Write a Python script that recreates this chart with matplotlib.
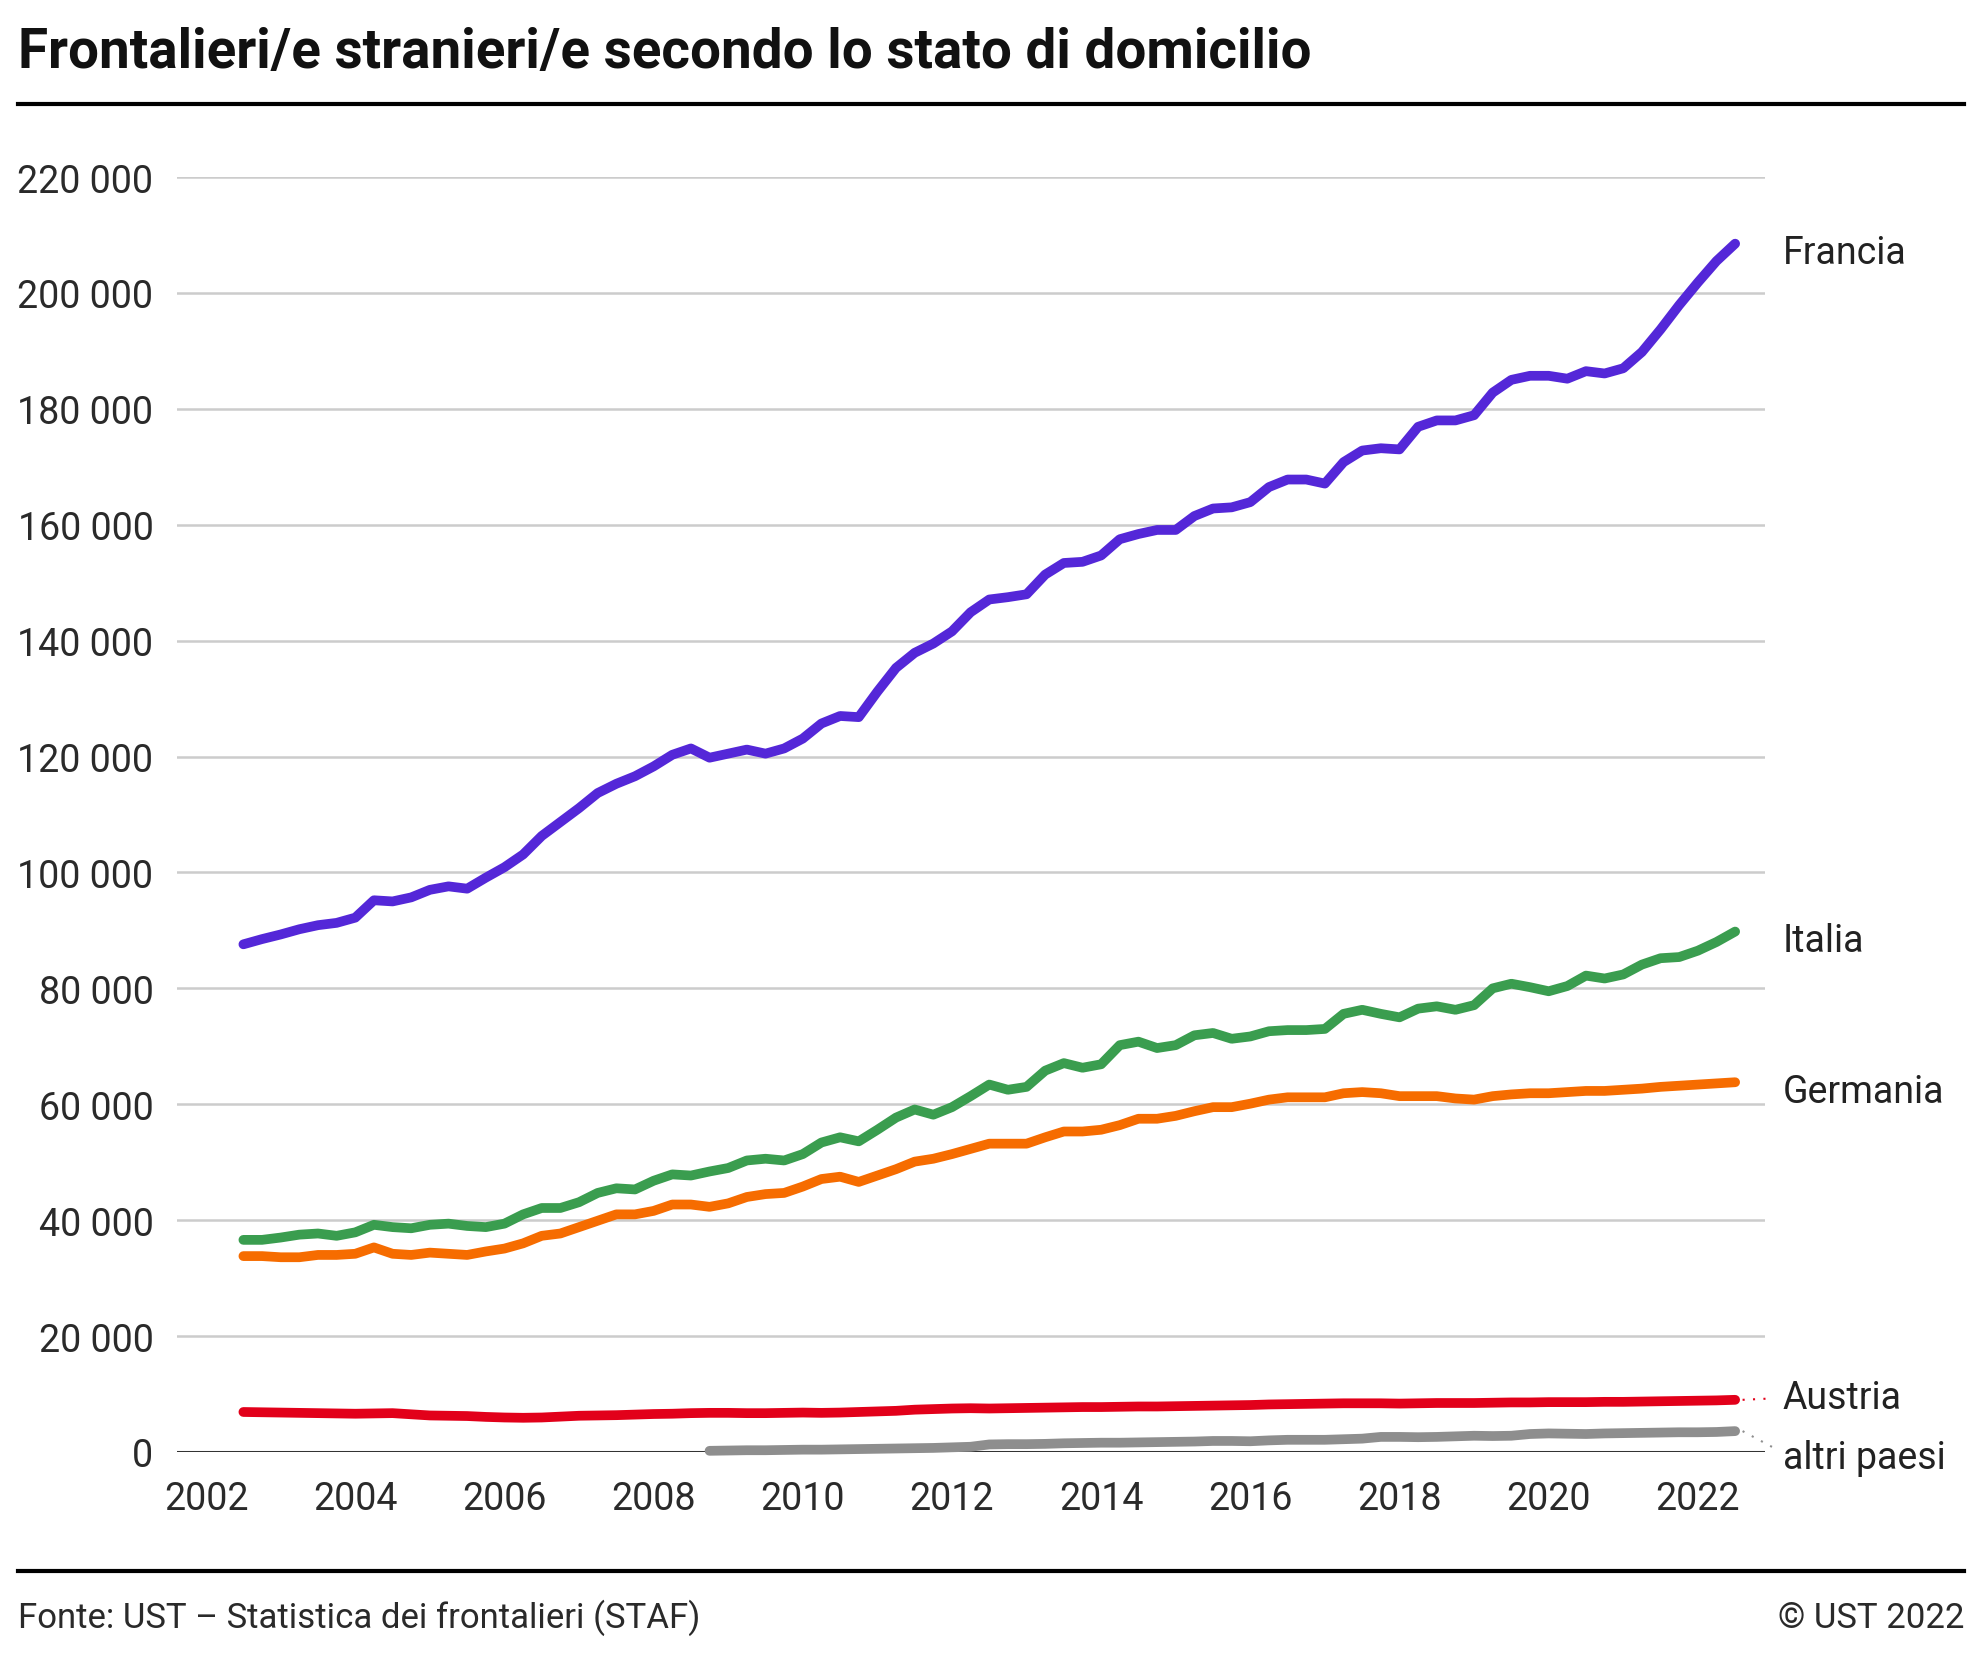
import numpy as np
import matplotlib
matplotlib.use("Agg")
from matplotlib import pyplot as plt

plt.rcParams['font.family'] = ['Roboto', 'DejaVu Sans']

# quarterly data, 2002 Q3 .. 2022 Q3
start_year = 2002.5
francia = [87600, 88500, 89300, 90200, 90900, 91300, 92200, 95200, 95000, 95700,
           97000, 97600, 97200, 99100, 100900, 103100, 106300, 108700, 111100, 113700,
           115300, 116600, 118300, 120300, 121400, 119800, 120500, 121200, 120500, 121400,
           123100, 125700, 127000, 126800, 131200, 135300, 137900, 139500, 141600, 144900,
           147100, 147500, 148000, 151400, 153400, 153600, 154700, 157500, 158400, 159100,
           159100, 161500, 162800, 163000, 163900, 166500, 167800, 167800, 167100, 170800,
           172800, 173200, 173000, 176900, 178000, 178000, 178900, 182800, 185000, 185700,
           185700, 185200, 186500, 186100, 187000, 189800, 193700, 197900, 201800, 205500,
           208500]
italia = [36600, 36600, 37000, 37500, 37700, 37300, 37900, 39200, 38800, 38600,
          39200, 39400, 39000, 38800, 39400, 41000, 42100, 42100, 43100, 44700,
          45500, 45300, 46800, 47900, 47700, 48400, 49000, 50300, 50600, 50300,
          51400, 53400, 54300, 53600, 55600, 57700, 59100, 58200, 59500, 61400,
          63400, 62500, 63000, 65800, 67100, 66300, 66900, 70200, 70800, 69700,
          70200, 71900, 72300, 71300, 71700, 72600, 72800, 72800, 73000, 75600,
          76300, 75600, 75000, 76500, 76900, 76300, 77100, 80000, 80800, 80200,
          79500, 80400, 82200, 81700, 82400, 84100, 85200, 85400, 86500, 88000,
          89800]
germania = [33800, 33800, 33600, 33600, 34000, 34000, 34200, 35300, 34200, 34000,
            34400, 34200, 34000, 34600, 35100, 36000, 37300, 37700, 38800, 39900,
            41000, 41000, 41600, 42700, 42700, 42300, 42900, 44000, 44500, 44700,
            45800, 47100, 47500, 46600, 47700, 48800, 50100, 50600, 51400, 52300,
            53200, 53200, 53200, 54300, 55300, 55300, 55600, 56400, 57500, 57500,
            58000, 58800, 59500, 59500, 60100, 60800, 61200, 61200, 61200, 61900,
            62100, 61900, 61400, 61400, 61400, 61000, 60800, 61400, 61700, 61900,
            61900, 62100, 62300, 62300, 62500, 62700, 63000, 63200, 63400, 63600,
            63800]
austria = [6900, 6850, 6800, 6750, 6700, 6650, 6600, 6650, 6700, 6500,
           6300, 6250, 6200, 6050, 5950, 5900, 5950, 6100, 6250, 6300,
           6350, 6450, 6550, 6600, 6700, 6750, 6750, 6700, 6700, 6750,
           6800, 6750, 6800, 6900, 7000, 7100, 7300, 7400, 7500, 7550,
           7500, 7550, 7600, 7650, 7700, 7750, 7750, 7800, 7850, 7850,
           7900, 7950, 8000, 8050, 8100, 8200, 8250, 8300, 8350, 8400,
           8400, 8400, 8350, 8400, 8450, 8450, 8450, 8500, 8550, 8550,
           8600, 8600, 8600, 8650, 8650, 8700, 8750, 8800, 8850, 8900,
           9000]
# altri paesi from 2008 Q4
altri_start = 2008.75
altri = [200, 250, 300, 300, 350, 400, 400, 450, 500, 550,
         600, 650, 700, 800, 900, 1300, 1350, 1350, 1400, 1500,
         1550, 1600, 1600, 1650, 1700, 1750, 1800, 1900, 1900, 1850,
         2000, 2100, 2100, 2100, 2200, 2300, 2600, 2600, 2550, 2600,
         2700, 2800, 2750, 2800, 3100, 3200, 3150, 3100, 3200, 3250,
         3300, 3350, 3400, 3400, 3450, 3600]

names = ['Francia', 'Italia', 'Germania', 'Austria', 'altri paesi']
colors = ['#5427d8', '#3a9d4f', '#f66c00', '#e2001a', '#8e8e8e']
label_offset = [-1600, -1600, -1600, 400, -4600]

yticks = np.arange(0, 220001, 20000)
xticks = np.arange(2002, 2023, 2)

fig = plt.figure(figsize=(19.8, 16.56), dpi=100)
ax = fig.add_axes([0.0894, 0.1226, 0.802, 0.7699])

series = [francia, italia, germania, austria, altri]
starts = [start_year] * 4 + [altri_start]
for vals, st, c, name, off in zip(series, starts, colors, names, label_offset):
    x = st + 0.25 * np.arange(len(vals))
    ax.plot(x, vals, color=c, lw=7, solid_capstyle='round', solid_joinstyle='round',
            clip_on=False, zorder=3)
    ax.text(2023.14, vals[-1] + off, name, fontsize=27, color='#222222',
            va='center', ha='left', clip_on=False)
    if name in ('Austria', 'altri paesi'):
        ax.plot([x[-1] + 0.1, 2023.0], [vals[-1], vals[-1] + off * 0.6], color=c,
                lw=1.5, ls=(0, (1, 4)), clip_on=False)

for yv in yticks[1:]:
    ax.axhline(yv, color='#cccccc', lw=1.8, zorder=1)
ax.axhline(0, color='#333333', lw=2.2, zorder=2)

ax.set_xlim(2001.61, 2022.9)
ax.set_ylim(0, 220000)
ax.set_yticks(yticks)
ax.set_yticklabels([f"{v:,}".replace(",", " ") for v in yticks])
ax.set_xticks(xticks)
ax.tick_params(length=0, labelsize=27, labelcolor='#2a2a2a')
ax.tick_params(axis='x', pad=20)
ax.tick_params(axis='y', pad=17)
for s in ax.spines.values():
    s.set_visible(False)

fig.text(0.009, 0.968, "Frontalieri/e stranieri/e secondo lo stato di domicilio",
         fontsize=39.4, fontweight='bold', color='#111111', va='center', ha='left')
fig.add_artist(plt.Line2D([0.009, 0.992], [0.9366, 0.9366], color='black', lw=3))
fig.add_artist(plt.Line2D([0.009, 0.992], [0.0507, 0.0507], color='black', lw=3))
fig.text(0.009, 0.0229, "Fonte: UST – Statistica dei frontalieri (STAF)",
         fontsize=25, color='#2a2a2a', va='center', ha='left')
fig.text(0.992, 0.0229, "© UST 2022", fontsize=25, color='#2a2a2a',
         va='center', ha='right')

fig.savefig("out.png", dpi=100)
